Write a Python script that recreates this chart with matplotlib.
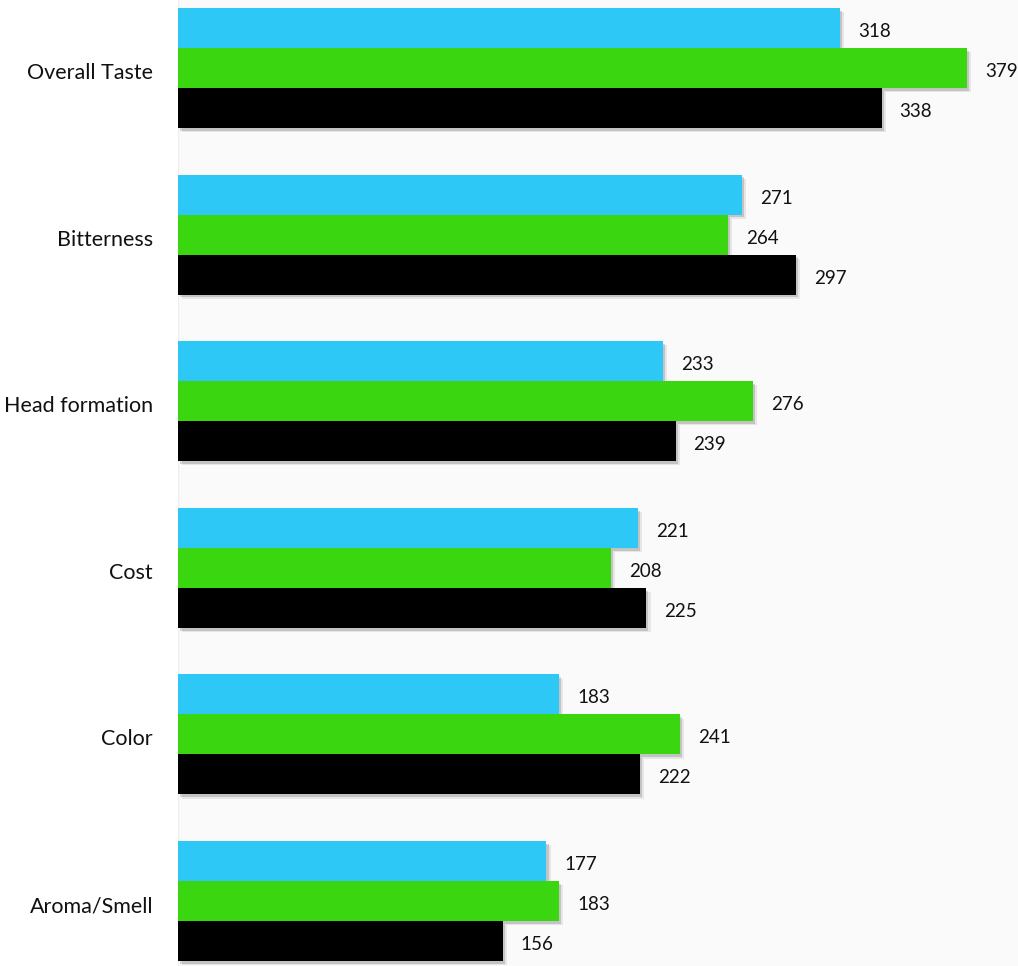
import matplotlib
matplotlib.use("Agg")
import matplotlib.pyplot as plt
import matplotlib.patheffects as pe
import matplotlib.transforms as mtransforms
import numpy as np

categories = ["Overall Taste", "Bitterness", "Head formation", "Cost", "Color", "Aroma/Smell"]
series_blue = [318, 271, 233, 221, 183, 177]
series_green = [379, 264, 276, 208, 241, 183]
series_black = [338, 297, 239, 225, 222, 156]
colors = ["#2ec8f7", "#3ad60f", "#000000"]

plt.rcParams['font.family'] = ['Lato', 'DejaVu Sans']

fig = plt.figure(figsize=(10.18, 9.66), dpi=100, facecolor="white")
ax = fig.add_axes([178/1018, 0, 840/1018, 1])
ax.set_facecolor("#fafafa")

y = np.arange(len(categories))
h = 0.24
offsets = [-h, 0, h]
shadow = [pe.SimplePatchShadow(offset=(3, -3), shadow_rgbFace="#000000", alpha=0.08),
          pe.SimplePatchShadow(offset=(1.5, -2), shadow_rgbFace="#000000", alpha=0.15),
          pe.Normal()]
for vals, off, c in zip([series_blue, series_green, series_black], offsets, colors):
    bars = ax.barh(y + off, vals, height=h, color=c, edgecolor="none")
    for b in bars:
        b.set_path_effects(shadow)
    for yi, v in zip(y + off, vals):
        ax.annotate(str(v), (v, yi), xytext=(13, -2.5), textcoords="offset points",
                    va="center", ha="left", fontsize=13.5, color="#111111")

ax.set_xlim(0, 403.5)
ax.set_ylim(5.39, -0.408)
ax.set_yticks(y)
ax.set_yticklabels(categories, fontsize=15.5, color="#111111")
ax.tick_params(axis="y", length=0, pad=18)
shift = mtransforms.ScaledTranslation(0, -3/100, fig.dpi_scale_trans)
for lbl in ax.get_yticklabels():
    lbl.set_transform(lbl.get_transform() + shift)
ax.set_xticks([])
for s in ax.spines.values():
    s.set_visible(False)
ax.axvline(0, color="#eeeeee", lw=1, zorder=0)

fig.savefig("out.png", dpi=100, facecolor="white")
